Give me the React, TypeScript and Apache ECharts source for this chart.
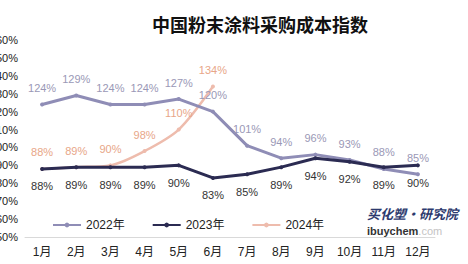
import React, { useEffect, useRef } from "react";
import * as echarts from "echarts";

const months = ["1月", "2月", "3月", "4月", "5月", "6月", "7月", "8月", "9月", "10月", "11月", "12月"];
const s2022 = [124, 129, 124, 124, 127, 120, 101, 94, 96, 93, 88, 85];
const s2023 = [88, 89, 89, 89, 90, 83, 85, 89, 94, 92, 89, 90];
const s2024 = [88, 89, 90, 98, 110, 134];
const seriesNames = ["2022年", "2023年", "2024年"];

export default function App() {
  const ref = useRef<HTMLDivElement>(null);
  useEffect(() => {
    const chart = echarts.init(ref.current!, null, { renderer: "svg" });
    const font = "'Liberation Sans', 'Noto Sans CJK SC', sans-serif";
    chart.setOption({
      animation: false,
      backgroundColor: "#ffffff",
      title: {
        text: "中国粉末涂料采购成本指数",
        left: 147,
        top: 10,
        textStyle: { fontSize: 18, fontWeight: "bold", color: "#111", fontFamily: "'Noto Sans CJK SC', serif" },
      },
      legend: {
        left: 52,
        top: 219,
        padding: 0,
        itemWidth: 28,
        itemHeight: 6,
        itemGap: 27,
        textStyle: { fontSize: 12, color: "#222", fontFamily: font },
        data: seriesNames,
      },
      grid: { left: 25, right: 33, top: 40, bottom: 27, containLabel: false, outerBoundsMode: "none" },
      xAxis: {
        type: "category",
        data: months,
        boundaryGap: true,
        axisLine: { lineStyle: { color: "#d9d9d9" } },
        axisTick: { show: false },
        axisLabel: { fontSize: 12, color: "#222", margin: 9, interval: 0, fontFamily: font },
      },
      yAxis: {
        type: "value",
        min: 50,
        max: 160,
        interval: 10,
        splitLine: { show: false },
        axisLine: { show: false },
        axisTick: { show: false },
        axisLabel: { fontSize: 11, color: "#222", margin: 7, formatter: "{value}%", fontFamily: font },
      },
      graphic: [
        {
          type: "text",
          left: 367,
          top: 207,
          style: {
            text: "买化塑·研究院",
            fontSize: 13,
            fontWeight: "bold",
            fontStyle: "italic",
            fill: "#2d3a6e",
            fontFamily: "'Noto Sans CJK SC', sans-serif",
          },
        },
        {
          type: "text",
          left: 367,
          top: 225,
          style: {
            text: "{a|ibuychem}{b|.com}",
            rich: {
              a: { fontSize: 11, fontWeight: "bold", fill: "#333", fontFamily: font },
              b: { fontSize: 11, fill: "#c4c4c4", fontFamily: font },
            },
          },
        },
      ],
      series: [
        {
          name: seriesNames[0],
          type: "line",
          data: s2022,
          symbol: "circle",
          symbolSize: 4,
          lineStyle: { width: 3, color: "#8f8db6" },
          itemStyle: { color: "#8f8db6" },
          label: {
            show: true,
            position: "top",
            distance: 9,
            formatter: "{c}%",
            fontSize: 11,
            color: "#9a98b6",
            fontFamily: font,
          },
          z: 3,
        },
        {
          name: seriesNames[1],
          type: "line",
          data: s2023,
          symbol: "circle",
          symbolSize: 4,
          lineStyle: { width: 3, color: "#2b2b52" },
          itemStyle: { color: "#2b2b52" },
          label: {
            show: true,
            position: "bottom",
            distance: 10,
            formatter: "{c}%",
            fontSize: 11,
            color: "#333",
            fontFamily: font,
          },
          z: 4,
        },
        {
          name: seriesNames[2],
          type: "line",
          data: s2024,
          smooth: 0.3,
          symbol: "circle",
          symbolSize: 4,
          lineStyle: { width: 2.5, color: "#eebcad" },
          itemStyle: { color: "#eebcad" },
          label: {
            show: true,
            position: "top",
            distance: 9,
            formatter: "{c}%",
            fontSize: 11,
            color: "#e8a688",
            fontFamily: font,
          },
          z: 2,
        },
      ],
    });
    return () => chart.dispose();
  }, []);
  return <div ref={ref} style={{ position: "fixed", left: 0, top: 0, width: 468, height: 264 }} />;
}
